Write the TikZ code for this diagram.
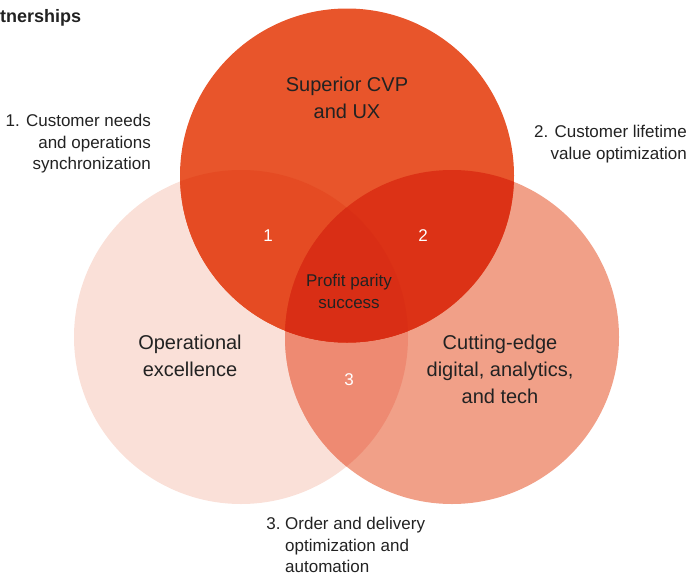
\documentclass[tikz,border=0pt]{standalone}
\usepackage{fontspec}
\setmainfont{Liberation Sans}
\definecolor{leftc}{HTML}{FAE0D8}
\definecolor{rightc}{HTML}{F1A088}
\definecolor{lrc}{HTML}{EE8A72}
\definecolor{topc}{HTML}{E8552B}
\definecolor{tlc}{HTML}{E54B23}
\definecolor{trc}{HTML}{DC3216}
\definecolor{tlrc}{HTML}{D92E15}
\definecolor{ink}{HTML}{222222}
\tikzset{
  big/.style={font=\fontsize{20}{27}\selectfont, text=ink, align=center, inner sep=0pt},
  small/.style={font=\fontsize{17}{21.5}\selectfont, text=ink, inner sep=0pt},
  num/.style={font=\fontsize{17}{20}\selectfont, text=white, inner sep=0pt},
}
\begin{document}
\begin{tikzpicture}[x=1pt,y=-1pt]
\useasboundingbox (0,0) rectangle (688,576);
\coordinate (T) at (347,175.5);
\coordinate (L) at (241,337);
\coordinate (R) at (452,337);
\def\rad{167pt}
% circles and overlaps
\fill[leftc] (L) circle (\rad);
\fill[rightc] (R) circle (\rad);
\begin{scope}
  \clip (L) circle (\rad);
  \fill[lrc] (R) circle (\rad);
\end{scope}
\fill[topc] (T) circle (\rad);
\begin{scope}
  \clip (T) circle (\rad);
  \fill[tlc] (L) circle (\rad);
  \fill[trc] (R) circle (\rad);
  \clip (L) circle (\rad);
  \fill[tlrc] (R) circle (\rad);
\end{scope}
% title
\node[anchor=base west, inner sep=0pt, font=\fontsize{18}{20}\selectfont\bfseries, text=ink] (title) at (0,22) {tnerships};
% circle labels
\node[big] (sup) at (347,98) {Superior CVP\\and UX};
\node[big] (ops) at (190,355.5) {Operational\\excellence};
\node[big] (cut) at (500,369) {Cutting-edge\\digital, analytics,\\and tech};
\node[small, align=center] (profit) at (349,291.5) {Profit parity\\success};
% numbers
\node[num] (n1) at (268,236) {1};
\node[num] (n2) at (423,236) {2};
\node[num] (n3) at (349,380) {3};
% outside notes
\node[small, align=right, anchor=east] (note1) at (151,144) {1. Customer needs\\and operations\\synchronization};
\node[small, align=right, anchor=east] (note2) at (687,144) {2. Customer lifetime\\value optimization};
\node[small, align=left, anchor=west] (note3) at (285,545) {\llap{3.\ }Order and delivery\\optimization and\\automation};
\end{tikzpicture}
\end{document}
